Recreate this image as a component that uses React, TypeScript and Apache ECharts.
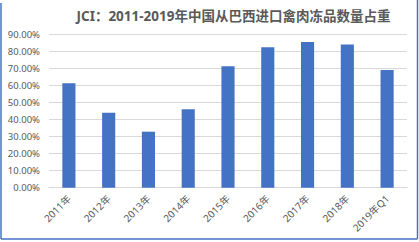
import React, { useEffect, useRef } from "react";
import * as echarts from "echarts";

const categories = ["2011年", "2012年", "2013年", "2014年", "2015年", "2016年", "2017年", "2018年", "2019年Q1"];
const shareValues = [61.2, 43.9, 32.8, 45.9, 71.1, 82.2, 85.3, 83.8, 68.9];
const yTicks = { min: 0, max: 90, interval: 10 };
const titleText = "JCI：2011-2019年中国从巴西进口禽肉冻品数量占重";

export default function App() {
  const ref = useRef<HTMLDivElement>(null);
  useEffect(() => {
    if (!ref.current) return;
    const chart = echarts.init(ref.current, null, { renderer: "svg" });
    const font = "'Noto Sans', 'Noto Sans CJK SC', sans-serif";
    chart.setOption({
      animation: false,
      backgroundColor: "#ffffff",
      title: {
        text: titleText,
        left: 228.5,
        top: 4,
        textAlign: "center",
        textStyle: { fontSize: 13.5, fontWeight: "bold", color: "#595959", fontFamily: font },
      },
      grid: { left: 49, right: 12, top: 34, bottom: 54.3 },
      xAxis: {
        type: "category",
        data: categories,
        axisLine: { show: true, lineStyle: { color: "#d9d9d9" } },
        axisTick: { show: false },
        axisLabel: { rotate: 45, color: "#595959", fontSize: 10, fontFamily: font, margin: 9, interval: 0 },
      },
      yAxis: {
        type: "value",
        min: yTicks.min,
        max: yTicks.max,
        interval: yTicks.interval,
        axisLine: { show: false },
        axisTick: { show: false },
        splitLine: { lineStyle: { color: "#d9d9d9" } },
        axisLabel: {
          color: "#595959",
          fontSize: 9.5,
          fontFamily: font,
          margin: 9,
          formatter: (v: number) => v.toFixed(2) + "%",
        },
      },
      series: [
        {
          type: "bar",
          data: shareValues,
          barWidth: "33%",
          itemStyle: { color: "#4472c4" },
        },
      ],
      graphic: [
        { type: "line", shape: { x1: 1, y1: 3, x2: 1, y2: 239 }, style: { stroke: "#4472c4", lineWidth: 1.5 } },
        { type: "line", shape: { x1: 417.5, y1: 0, x2: 417.5, y2: 239 }, style: { stroke: "#4472c4", lineWidth: 1.5 } },
        { type: "line", shape: { x1: 1, y1: 239, x2: 417.5, y2: 239 }, style: { stroke: "#4472c4", lineWidth: 1.5 } },
      ],
    });
    return () => chart.dispose();
  }, []);
  return <div ref={ref} style={{ width: 419, height: 242, position: "absolute", left: 0, top: 0 }} />;
}
